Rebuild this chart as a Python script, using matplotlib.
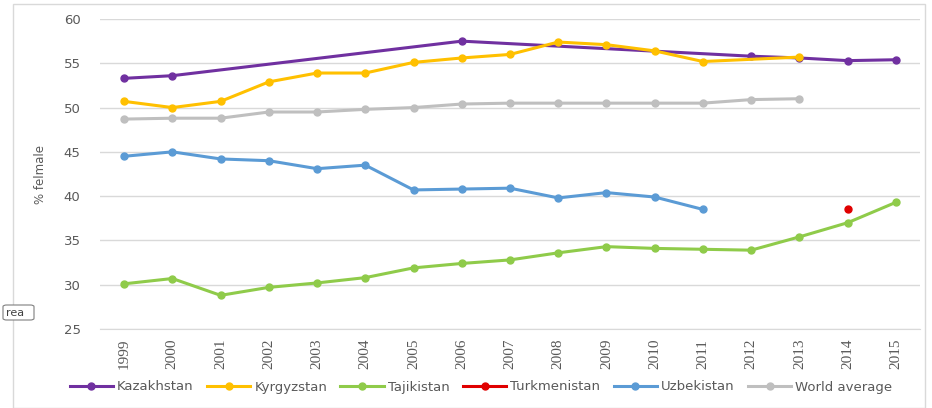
import numpy as np
import matplotlib
matplotlib.use("Agg")
import matplotlib.pyplot as plt
from matplotlib.patches import Rectangle, FancyBboxPatch

years = list(range(1999, 2016))
kaz_years = [1999, 2000, 2006, 2012, 2013, 2014, 2015]
kaz_vals = [53.3, 53.6, 57.5, 55.8, 55.6, 55.3, 55.4]
kgz_years = [1999, 2000, 2001, 2002, 2003, 2004, 2005, 2006, 2007, 2008, 2009, 2010, 2011, 2013]
kgz_vals = [50.7, 50.0, 50.7, 52.9, 53.9, 53.9, 55.1, 55.6, 56.0, 57.4, 57.1, 56.4, 55.2, 55.7]
taj_years = years
taj_vals = [30.1, 30.7, 28.8, 29.7, 30.2, 30.8, 31.9, 32.4, 32.8, 33.6, 34.3, 34.1, 34.0, 33.9, 35.4, 37.0, 39.3]
tkm_years = [2014]
tkm_vals = [38.5]
uzb_years = list(range(1999, 2012))
uzb_vals = [44.5, 45.0, 44.2, 44.0, 43.1, 43.5, 40.7, 40.8, 40.9, 39.8, 40.4, 39.9, 38.5]
wld_years = list(range(1999, 2014))
wld_vals = [48.7, 48.8, 48.8, 49.5, 49.5, 49.8, 50.0, 50.4, 50.5, 50.5, 50.5, 50.5, 50.5, 50.9, 51.0]

series = [
    ("Kazakhstan", kaz_years, kaz_vals, "#7030A0"),
    ("Kyrgyzstan", kgz_years, kgz_vals, "#FFC000"),
    ("Tajikistan", taj_years, taj_vals, "#8FCB4A"),
    ("Turkmenistan", tkm_years, tkm_vals, "#E00000"),
    ("Uzbekistan", uzb_years, uzb_vals, "#5B9BD5"),
    ("World average", wld_years, wld_vals, "#BFBFBF"),
]

fig = plt.figure(figsize=(9.32, 4.08), dpi=100)
fig.patch.set_facecolor("white")
# outer chart frame
fig.patches.append(Rectangle((13/932, 0.0), (925-13)/932, 404/408,
                             transform=fig.transFigure, fill=False,
                             edgecolor="#D9D9D9", linewidth=1.0))

ax = fig.add_axes([100/932, 1-329/408, (920-100)/932, (329-19)/408])
for name, xs, ys, c in series:
    if name == "Turkmenistan":
        ax.plot(xs, ys, color=c, marker="o", markersize=5, linestyle="none", zorder=3)
    else:
        ax.plot(xs, ys, color=c, marker="o", markersize=5, linewidth=2.2, zorder=3)

ax.set_xlim(1998.5, 2015.5)
ax.set_ylim(25, 60)
ax.set_yticks(range(25, 61, 5))
ax.set_xticks(years)
ax.set_xticklabels([str(y) for y in years], rotation=90, fontsize=11, color="#595959",
                   family="Liberation Serif")
ax.tick_params(axis="y", labelsize=9.5, colors="#595959", length=0, pad=14)
ax.tick_params(axis="x", length=0, pad=7)
ax.grid(axis="y", color="#D9D9D9", linewidth=1)
ax.set_axisbelow(True)
for s in ["top", "right", "left"]:
    ax.spines[s].set_visible(False)
ax.spines["bottom"].set_color("#D9D9D9")
ax.set_ylabel("% felmale", fontsize=8.5, color="#595959", labelpad=4)
ax.yaxis.set_label_coords(-0.065, 0.5)

handles = []
for name, xs, ys, c in series:
    h, = ax.plot([], [], color=c, marker="o", markersize=5, linewidth=2.2)
    handles.append(h)
fig.legend(handles, [s[0] for s in series], loc="center", bbox_to_anchor=(481/932, 1-387/408),
           ncol=6, frameon=False, fontsize=9.5, handlelength=3.3, columnspacing=1.0,
           handletextpad=0.3, labelcolor="#595959")

# small "rea" tooltip box on the left
fig.patches.append(FancyBboxPatch((3/932, 1-320/408), 31/932, 15/408,
                                  boxstyle="round,pad=0.0,rounding_size=0.004",
                                  transform=fig.transFigure, facecolor="white",
                                  edgecolor="#7F7F7F", linewidth=0.8))
fig.text(6/932, 1-313/408, "rea", fontsize=8, color="#404040", va="center", ha="left")

fig.savefig("out.png", dpi=100)
